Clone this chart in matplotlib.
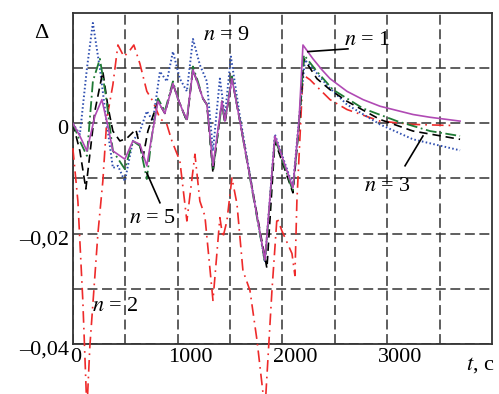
import numpy as np
import matplotlib
matplotlib.use("Agg")
import matplotlib.pyplot as plt
from matplotlib.transforms import ScaledTranslation

plt.rcParams['font.family'] = ['Liberation Serif', 'DejaVu Serif']
plt.rcParams['mathtext.fontset'] = 'stix'

# n = 1 (solid)
t1 = [0, 67, 134, 210, 277, 334, 382, 496, 573, 640, 706, 754, 812, 878, 955, 1002,
      1050, 1088, 1146, 1193, 1241, 1279, 1337, 1422, 1451, 1518, 1594, 1833, 1928,
      2100, 2158, 2196, 2291, 2377, 2454, 2616, 2769, 2931, 3246, 3408, 3695]
d1 = [0, -0.0023, -0.0050, 0.0013, 0.0043, -0.0005, -0.0050, -0.0065, -0.0032, -0.0038,
      -0.0077, -0.0023, 0.0040, 0.0018, 0.0072, 0.0045, 0.0022, 0.0007, 0.0097, 0.0072,
      0.0045, 0.0034, -0.0077, 0.0040, 0.0004, 0.0081, 0.0004, -0.0248, -0.0023, -0.0117,
      0.0004, 0.0142, 0.0117, 0.0097, 0.0081, 0.0058, 0.0043, 0.0031, 0.0016, 0.0011, 0.0004]

# n = 2 (dash-dot red)
t2 = [0, 48, 95, 134, 162, 239, 286, 325, 382, 430, 487, 535, 582, 640, 706, 764, 831,
      897, 945, 1021, 1088, 1165, 1212, 1260, 1337, 1403, 1432, 1470, 1518, 1566, 1623,
      1690, 1757, 1833, 1900, 1948, 1995, 2091, 2119, 2138, 2196, 2263, 2454, 2616, 2931,
      3246, 3628]
d2 = [-0.0045, -0.0141, -0.0321, -0.0520, -0.0405, -0.0200, -0.0105, 0.0009, 0.0070,
      0.0142, 0.0121, 0.0130, 0.0142, 0.0108, 0.0058, 0.0040, 0.0009, -0.0002, -0.0032,
      -0.0068, -0.0177, -0.0056, -0.0141, -0.0168, -0.0321, -0.0171, -0.0207, -0.0177,
      -0.0099, -0.0146, -0.0267, -0.0303, -0.0393, -0.0520, -0.0303, -0.0171, -0.0195,
      -0.0236, -0.0276, -0.0141, 0.0088, 0.0079, 0.0043, 0.0025, 0.0004, -0.0002, -0.0004]

# n = 3 (dashed black)
t3 = [0, 67, 124, 210, 286, 334, 382, 449, 516, 601, 668, 716, 812, 878, 955, 1002, 1050,
      1088, 1146, 1193, 1241, 1279, 1337, 1422, 1451, 1518, 1594, 1852, 1928, 2100, 2158,
      2205, 2329, 2454, 2616, 2931, 3246, 3695]
d3 = [0, -0.0050, -0.0119, 0.0022, 0.0094, 0.0031, -0.0014, -0.0032, -0.0027, -0.0011,
      -0.0063, -0.0014, 0.0040, 0.0018, 0.0072, 0.0045, 0.0022, 0.0004, 0.0097, 0.0072,
      0.0045, 0.0034, -0.0090, 0.0040, 0, 0.0081, 0.0004, -0.0263, -0.0032, -0.0126,
      -0.0005, 0.0117, 0.0081, 0.0061, 0.0040, 0.0007, -0.0014, -0.0029]

# n = 5 (dash-dot green)
t5 = [0, 67, 134, 191, 258, 315, 382, 496, 573, 640, 706, 754, 812, 878, 955, 1002, 1050,
      1088, 1146, 1193, 1241, 1279, 1337, 1422, 1451, 1518, 1594, 1833, 1928, 2100, 2158,
      2205, 2329, 2482, 2769, 3093, 3408, 3695]
d5 = [0, -0.0032, -0.0059, 0.0076, 0.0117, 0.0050, -0.0050, -0.0083, -0.0032, -0.0041,
      -0.0101, -0.0023, 0.0045, 0.0022, 0.0076, 0.0045, 0.0022, 0.0004, 0.0103, 0.0076,
      0.0045, 0.0034, -0.0083, 0.0034, 0.0004, 0.0085, 0.0004, -0.0252, -0.0027, -0.0123,
      0.0000, 0.0124, 0.0094, 0.0061, 0.0027, 0.0004, -0.0014, -0.0023]

# n = 9 (dotted blue)
t9 = [0, 67, 134, 191, 258, 325, 382, 430, 496, 573, 640, 706, 764, 831, 897, 955, 1021,
      1088, 1146, 1212, 1279, 1337, 1403, 1451, 1508, 1594, 1833, 1928, 2100, 2158, 2215,
      2291, 2435, 2616, 2931, 3246, 3695]
d9 = [0, -0.0020, 0.0099, 0.0182, 0.0099, -0.0002, -0.0081, -0.0077, -0.0105, -0.0032,
      -0.0014, 0.0022, 0.0004, 0.0094, 0.0076, 0.0130, 0.0081, 0.0058, 0.0153, 0.0106,
      0.0076, -0.0050, 0.0081, 0.0013, 0.0121, 0.0013, -0.0252, -0.0020, -0.0114, 0.0007,
      0.0115, 0.0099, 0.0067, 0.0034, -0.0002, -0.0029, -0.0049]

x_ticks = [0, 500, 1000, 1500, 2000, 2500, 3000, 3500]
x_labels = ['0', '', '1000', '', '2000', '', '3000', '']
y_ticks = [-0.04, -0.03, -0.02, -0.01, 0, 0.01]
y_labels = ['\u20130,04', '', '\u20130,02', '', '0', '']

fig = plt.figure(figsize=(4.99, 3.94), dpi=100)
ax = fig.add_axes([0.146, 0.127, 0.840, 0.840])

ax.plot(t2, d2, color='#ee2a2a', lw=1.2, ls=(0, (7, 3, 1, 3)), clip_on=False, zorder=3)
ax.plot(t9, d9, color='#2f4fb0', lw=1.4, ls=(0, (0.8, 1.2)), zorder=4)
ax.plot(t3, d3, color='black', lw=1.2, ls=(0, (5, 3)), zorder=5)
ax.plot(t5, d5, color='#1f7a35', lw=1.3, ls=(0, (6, 2, 1, 2)), zorder=6)
ax.plot(t1, d1, color='#b04ab4', lw=1.2, zorder=7)

ax.set_xlim(0, 4000)
ax.set_ylim(-0.04, 0.02)
ax.set_xticks(x_ticks)
ax.set_xticklabels(x_labels, fontsize=16)
ax.set_yticks(y_ticks)
ax.set_yticklabels(y_labels, fontsize=16)
ax.tick_params(length=0, pad=3)
ax.grid(True, color='#333333', ls=(0, (6.5, 3)), lw=1.1)
for s in ax.spines.values():
    s.set_color('#333333')
    s.set_linewidth(1.3)

for lab, dx in zip(ax.get_xticklabels(), [3, 0, 13, 0, 13, 0, 13, 0]):
    lab.set_transform(lab.get_transform() + ScaledTranslation(dx / 100, 0, fig.dpi_scale_trans))
for lab in ax.get_yticklabels():
    lab.set_transform(lab.get_transform() + ScaledTranslation(0, -0.04, fig.dpi_scale_trans))

ax.text(1470, 0.0160, '$n$ = 9', fontsize=16, ha='center', va='center')
ax.text(2807, 0.0151, '$n$ = 1', fontsize=16, ha='center', va='center')
ax.text(3007, -0.0114, '$n$ = 3', fontsize=16, ha='center', va='center')
ax.text(764, -0.0173, '$n$ = 5', fontsize=16, ha='center', va='center')
ax.text(410, -0.0332, '$n$ = 2', fontsize=16, ha='center', va='center')

ax.plot([2243, 2625], [0.0130, 0.0135], color='black', lw=1.2, zorder=8)
ax.plot([3341, 3170], [-0.0023, -0.0077], color='black', lw=1.2, zorder=8)
ax.plot([706, 831], [-0.0090, -0.0144], color='black', lw=1.2, zorder=8)

fig.text(0.082, 0.916, '\u0394', fontsize=16, ha='center', va='center')
fig.text(0.962, 0.074, '$t$, c', fontsize=16, ha='center', va='center')

fig.savefig('out.png', dpi=100)
